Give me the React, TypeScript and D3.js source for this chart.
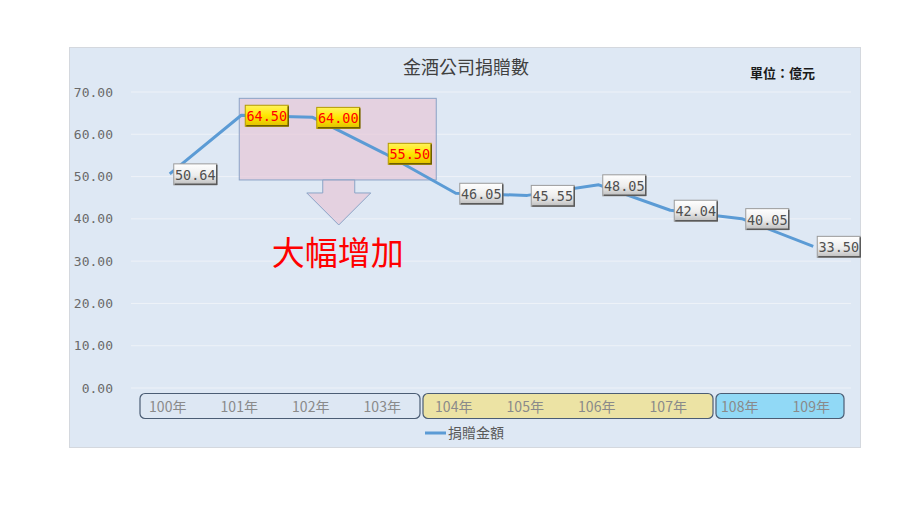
import * as d3 from 'd3'

const years = ['100年', '101年', '102年', '103年', '104年', '105年', '106年', '107年', '108年', '109年']
const donations = [50.64, 64.5, 64.0, 55.5, 46.05, 45.55, 48.05, 42.04, 40.05, 33.5]
const highlighted = ['101年', '102年', '103年']
const yTicks = [0, 10, 20, 30, 40, 50, 60, 70]
const groupFirst = ['100年', '104年', '108年']
const groupLast = ['103年', '107年', '109年']
const groupFills = ['#dde7f3', '#ece3a4', '#91d9f6']

const W = 900
const H = 506
const CJK = '"Noto Sans CJK TC", "Noto Sans", sans-serif'
const MONO = '"DejaVu Sans Mono", "Liberation Mono", monospace'

export default function App() {
  const x = d3.scaleBand<string>().domain(years).range([134, 849])
  const y = d3.scaleLinear().domain([0, 70]).range([388, 92])
  const cx = (c: string) => (x(c) ?? 0) + x.bandwidth() / 2
  const bw = x.bandwidth()

  const line = d3.line<number>()
    .x((_, i) => cx(years[i]))
    .y(d => y(d))

  // boxes grouping the category labels (hand-placed in the original, nudged a bit)
  const groupPad = [[6, 0], [3, 7], [10, -5]]

  // highlight area + down arrow
  const hlX0 = cx('101年') - 2
  const hlX1 = cx('103年') + 52
  const hlY0 = y(68.5)
  const hlY1 = y(49.2)
  const ax = (hlX0 + hlX1) / 2 + 1
  const arrow = d3.path()
  arrow.moveTo(ax - 16, hlY1)
  arrow.lineTo(ax + 16, hlY1)
  arrow.lineTo(ax + 16, hlY1 + 13)
  arrow.lineTo(ax + 32, hlY1 + 13)
  arrow.lineTo(ax, hlY1 + 45)
  arrow.lineTo(ax - 32, hlY1 + 13)
  arrow.lineTo(ax - 16, hlY1 + 13)
  arrow.closePath()

  return (
    <div style={{ position: 'absolute', left: 0, top: 0 }}>
      <svg width={W} height={H} style={{ display: 'block', background: '#fff' }}>
        <defs>
          <linearGradient id="lblGray" x1="0" y1="0" x2="0" y2="1">
            <stop offset="0" stopColor="#ffffff" />
            <stop offset="0.55" stopColor="#ececec" />
            <stop offset="1" stopColor="#bdbdbd" />
          </linearGradient>
          <linearGradient id="lblYellow" x1="0" y1="0" x2="0" y2="1">
            <stop offset="0" stopColor="#fff35a" />
            <stop offset="0.5" stopColor="#ffe600" />
            <stop offset="1" stopColor="#e0c000" />
          </linearGradient>
        </defs>

        {/* chart area */}
        <rect x={69.5} y={47.5} width={791} height={400} fill="#dee8f4" stroke="#d4d8de" />

        {/* gridlines */}
        {yTicks.map(t => (
          <line key={t} x1={131} x2={851} y1={y(t)} y2={y(t)} stroke="#eef2f8" strokeWidth={1} />
        ))}

        {/* y axis labels */}
        {yTicks.map(t => (
          <text key={'t' + t} x={113} y={y(t)} dy="0.35em" textAnchor="end"
            fontFamily={MONO} fontSize={13} fill="#6a6a6a">{t.toFixed(2)}</text>
        ))}

        {/* highlight region */}
        <rect x={hlX0} y={hlY0} width={hlX1 - hlX0} height={hlY1 - hlY0}
          fill="#e6c4d6" fillOpacity={0.65} stroke="#8aa3c6" strokeWidth={1} />
        <path d={arrow.toString()} fill="#e6c4d6" fillOpacity={0.65} stroke="#8aa3c6" strokeWidth={1} />
        <text x={ax - 1} y={265} textAnchor="middle" fontFamily={CJK} fontSize={33}
          fontWeight={400} fill="#ff0000">大幅增加</text>

        {/* series line */}
        <path d={line(donations) ?? ''} fill="none" stroke="#5b9bd5" strokeWidth={3} strokeLinejoin="round" />

        {/* data labels */}
        {donations.map((v, i) => {
          const hot = highlighted.includes(years[i])
          const lx = cx(years[i]) + 4
          const ly = y(v) - 10
          return (
            <g key={'l' + i}>
              <rect x={lx} y={ly} width={43} height={21} fill={hot ? 'url(#lblYellow)' : 'url(#lblGray)'}
                stroke={hot ? '#b39a00' : '#9a9a9a'} strokeWidth={1} />
              <path d={`M${lx + 1},${ly + 20.5}H${lx + 43}V${ly + 1}`} fill="none"
                stroke={hot ? '#6e5e00' : '#5a5a5a'} strokeWidth={1.5} />
              <text x={lx + 21.5} y={ly + 11} dy="0.36em" textAnchor="middle" fontFamily={MONO}
                fontSize={13.5} fill={hot ? '#ff0000' : '#505050'}>{v.toFixed(2)}</text>
            </g>
          )
        })}

        {/* category group boxes */}
        {groupFirst.map((g, i) => {
          const x0 = (x(g) ?? 0) + groupPad[i][0]
          const x1 = (x(groupLast[i]) ?? 0) + bw + groupPad[i][1]
          return (
            <rect key={'g' + g} x={x0} y={393.5} width={x1 - x0} height={25} rx={5}
              fill={groupFills[i]} stroke="#4b5d74" strokeWidth={1.2} />
          )
        })}
        {years.map(c => (
          <text key={'c' + c} x={cx(c) - 2} y={407} dy="0.35em" textAnchor="middle"
            fontFamily={CJK} fontSize={14} fill="#8a8a8a">{c}</text>
        ))}

        {/* title + unit */}
        <text x={466} y={68} dy="0.35em" textAnchor="middle" fontFamily={CJK} fontSize={18} fill="#404040">金酒公司捐贈數</text>
        <text x={750} y={73} dy="0.35em" fontFamily={CJK} fontSize={13} fontWeight={700} fill="#1a1a1a">單位：億元</text>

        {/* legend */}
        <line x1={425} x2={446} y1={433} y2={433} stroke="#5b9bd5" strokeWidth={3} />
        <text x={448} y={433} dy="0.35em" fontFamily={CJK} fontSize={14} fill="#595959">捐贈金額</text>
      </svg>
    </div>
  )
}
